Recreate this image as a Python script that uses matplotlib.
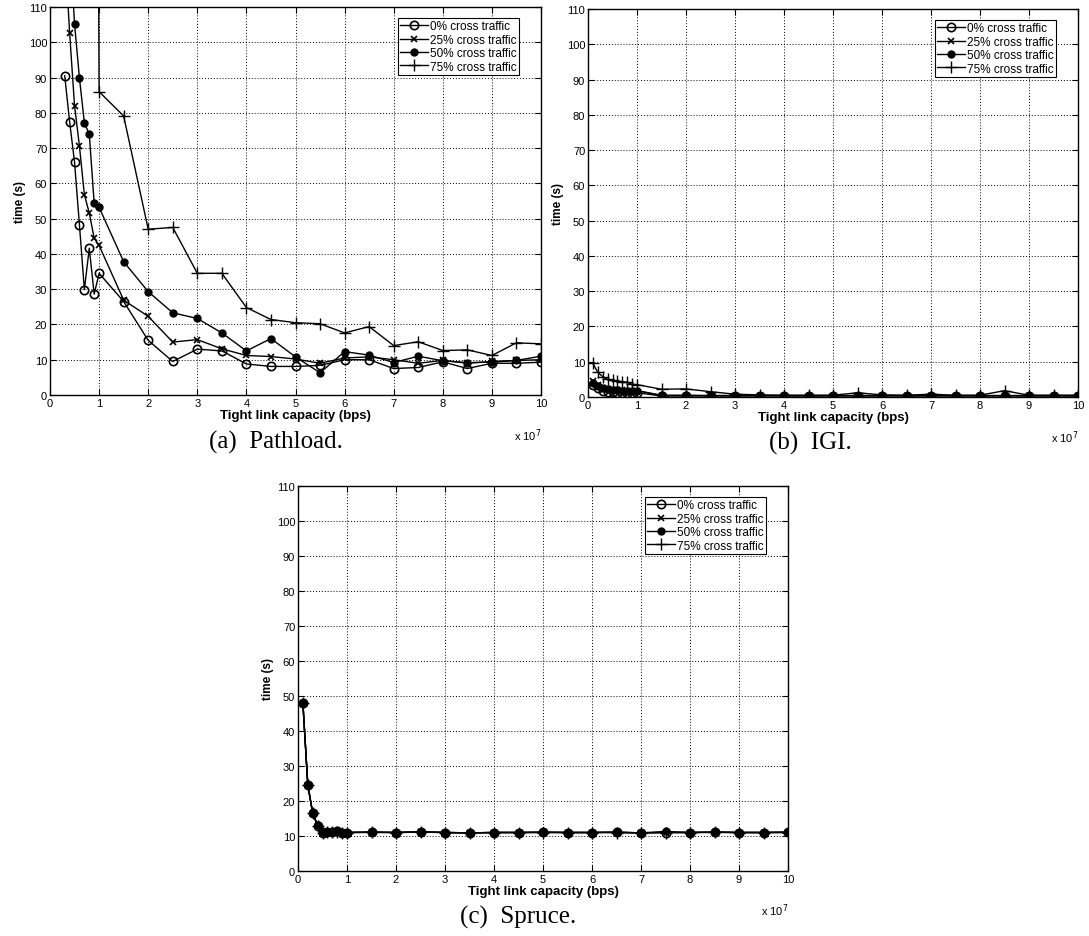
import numpy as np
from matplotlib import pyplot as plt

plt.rcParams['font.family'] = ['Liberation Sans', 'DejaVu Sans']

# capacity in units of 1e7 bps
x_small = [0.1, 0.2, 0.3, 0.4, 0.5, 0.6, 0.7, 0.8, 0.9, 1.0]
x_big = [1.5, 2, 2.5, 3, 3.5, 4, 4.5, 5, 5.5, 6, 6.5, 7, 7.5, 8, 8.5, 9, 9.5, 10]
x_all = x_small + x_big

labels = ['0% cross traffic', '25% cross traffic', '50% cross traffic', '75% cross traffic']

# (a) Pathload
pl_x0 = [0.3, 0.4, 0.5, 0.6, 0.7, 0.8, 0.9, 1.0] + x_big
pl_t0 = [90.5, 77.4, 66, 48.1, 29.9, 41.6, 28.6, 34.5,
         26.5, 15.5, 9.5, 13, 12.5, 8.8, 8.1, 8.1, 8.4, 10, 10, 7.5, 7.8, 9.4, 7.5, 9, 9, 9.3]
pl_x1 = [0.3, 0.4, 0.5, 0.6, 0.7, 0.8, 0.9, 1.0] + x_big
pl_t1 = [127, 102.6, 82, 70.5, 56.8, 51.6, 44.4, 42.4,
         26.9, 22.3, 15, 15.7, 13.1, 11.2, 10.9, 10.2, 9, 10.5, 10.8, 10, 9, 9.8, 9, 9.5, 9.8, 10]
pl_x2 = [0.4, 0.5, 0.6, 0.7, 0.8, 0.9, 1.0] + x_big
pl_t2 = [129, 105.2, 89.8, 77.2, 73.9, 54.4, 53.2,
         37.8, 29.3, 23.3, 21.7, 17.6, 12.5, 16, 10.8, 6.3, 12.3, 11.3, 9.2, 11, 9.7, 9.2, 9.3, 9.8, 11]
pl_x3 = [0.9, 1.0] + x_big
pl_t3 = [400, 86,
         79.1, 47, 47.5, 34.5, 34.5, 24.8, 21.4, 20.5, 20.2, 17.6, 19.4, 14, 15.1, 12.6, 12.8, 11.2, 14.8, 14.5]

# (b) IGI
igi_t0 = [3.5, 2.5, 1.6, 1.4, 1.3, 1.2, 1.2, 1.2, 1.2, 1.2,
          0.3, 0.3, 0.3, 0.3, 0.3, 0.3, 0.3, 0.3, 0.3, 0.3, 0.3, 0.3, 0.3, 0.3, 0.3, 0.3, 0.3, 0.3]
igi_t1 = [4.5, 3.3, 2.6, 2.3, 2.1, 2.0, 1.9, 1.8, 1.8, 1.8,
          0.4, 0.4, 0.4, 0.4, 0.4, 0.4, 0.4, 0.4, 0.4, 0.4, 0.4, 0.4, 0.4, 0.4, 0.4, 0.4, 0.4, 0.4]
igi_t2 = [4.0, 3.0, 2.5, 2.2, 2.0, 1.9, 1.8, 1.8, 1.8, 1.8,
          0.5, 0.5, 0.4, 0.4, 0.4, 0.4, 0.4, 0.4, 0.4, 0.4, 0.4, 0.4, 0.4, 0.4, 0.4, 0.4, 0.4, 0.4]
igi_t3 = [9.5, 7.0, 5.8, 5.0, 4.8, 4.5, 4.3, 4.2, 3.6, 3.5,
          2.2, 2.3, 1.5, 0.8, 0.6, 0.5, 0.5, 0.5, 1.2, 0.6, 0.5, 0.8, 0.5, 0.5, 1.8, 0.5, 0.5, 0.5]

# (c) Spruce
sp_t0 = [48, 24.6, 16.5, 13, 11, 11.2, 11.2, 11.3, 10.8, 11,
         11.1, 11, 11.2, 11, 10.9, 11, 11, 11.1, 11, 11, 11.1, 10.9, 11, 11, 11.1, 11, 11, 11.1]
sp_t1 = [47.8, 24.5, 16.4, 13, 11, 11.1, 11.1, 11.2, 10.9, 11,
         11, 11, 11.1, 11, 10.9, 11, 11, 11, 11, 11, 11, 10.9, 11, 11, 11, 11, 11, 11]
sp_t2 = [48, 24.7, 16.6, 13.1, 11.1, 11.2, 11.2, 11.3, 10.8, 11,
         11.1, 11, 11.2, 11, 10.9, 11, 11, 11.1, 11, 11, 11.1, 10.9, 11.3, 11, 11.1, 11, 11, 11.1]
sp_t3 = [47.9, 24.6, 16.5, 13, 11, 11.2, 11.1, 11.2, 10.9, 11,
         11.1, 11, 11.1, 11, 10.9, 11, 11, 11, 11, 11, 11, 10.9, 11, 11, 11.1, 11, 11, 11]

markers = [dict(marker='o', ms=6, mfc='none', mew=1.2),
           dict(marker='x', ms=4, mew=1.2),
           dict(marker='.', ms=10),
           dict(marker='+', ms=9, mew=1.0)]

W, H = 1089, 937


def px_axes(fig, left, right, top, bottom):
    return fig.add_axes([left / W, 1 - bottom / H, (right - left) / W, (bottom - top) / H])


def style_axes(ax, caption, cap_x, cap_y):
    ax.set_xlim(0, 10)
    ax.set_ylim(0, 110)
    ax.set_xticks(range(0, 11))
    ax.set_yticks(range(0, 111, 10))
    ax.tick_params(direction='in', top=True, right=True, labelsize=8, length=4, pad=2)
    ax.grid(True, color='black', linestyle=(0, (1, 2)), linewidth=0.7)
    for s in ax.spines.values():
        s.set_linewidth(1.0)
    ax.set_xlabel('Tight link capacity (bps)', fontsize=9.5, fontweight='bold', labelpad=1)
    ax.set_ylabel('time (s)', fontsize=8.5, fontweight='bold', labelpad=2)
    ax.text(1.0, -0.08, 'x 10$^7$', transform=ax.transAxes, fontsize=8, ha='right', va='top')
    bb = ax.get_position()
    ax_w, ax_h = bb.width * W, bb.height * H
    leg = ax.legend(loc='upper right', bbox_to_anchor=(1 - 22 / ax_w, 1 - 11 / ax_h),
                    borderaxespad=0, fontsize=8.5, fancybox=False, edgecolor='black',
                    framealpha=1, borderpad=0.2, labelspacing=0.12, handlelength=2.4,
                    handletextpad=0.15)
    leg.get_frame().set_linewidth(0.8)
    ax.figure.text(cap_x / W, 1 - cap_y / H, caption, family=['Liberation Serif'],
                   fontsize=18, ha='center', va='center')


fig = plt.figure(figsize=(W / 100, H / 100), dpi=100)

ax1 = px_axes(fig, 50, 541, 8, 396)
for xs, ys, lab, mk in zip([pl_x0, pl_x1, pl_x2, pl_x3], [pl_t0, pl_t1, pl_t2, pl_t3], labels, markers):
    ax1.plot(xs, ys, color='black', lw=1.0, label=lab, **mk)
style_axes(ax1, '(a)  Pathload.', 276, 442)

ax2 = px_axes(fig, 588, 1078, 10, 398)
for ys, lab, mk in zip([igi_t0, igi_t1, igi_t2, igi_t3], labels, markers):
    ax2.plot(x_all, ys, color='black', lw=1.0, label=lab, **mk)
style_axes(ax2, '(b)  IGI.', 810, 443)

ax3 = px_axes(fig, 298, 788, 487, 872)
for ys, lab, mk in zip([sp_t0, sp_t1, sp_t2, sp_t3], labels, markers):
    ax3.plot(x_all, ys, color='black', lw=1.0, label=lab, **mk)
style_axes(ax3, '(c)  Spruce.', 518, 917)

fig.savefig('out.png', dpi=100)
